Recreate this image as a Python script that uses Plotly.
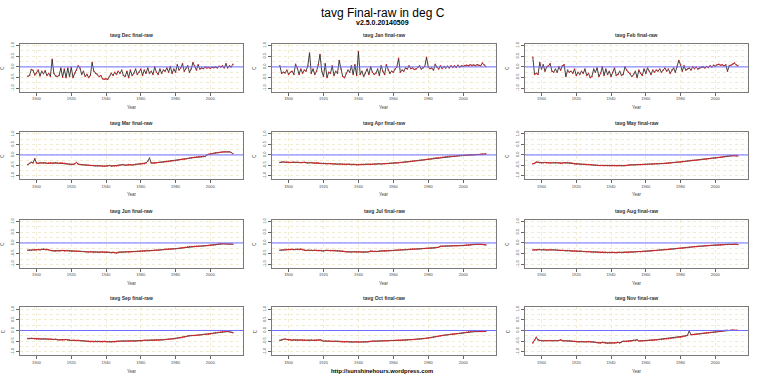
import plotly.graph_objects as go

years = list(range(1895, 2014))
months = ["Dec", "Jan", "Feb", "Mar", "Apr", "May", "Jun", "Jul", "Aug", "Sep", "Oct", "Nov"]

dec = [-0.44, -0.40, -0.12, -0.16, -0.38, -0.28, -0.15, -0.42, -0.20, -0.32,
       -0.18, -0.40, -0.30, -0.45, 0.35, -0.30, -0.42, -0.45, -0.40, -0.05,
       -0.48, -0.10, -0.50, -0.05, -0.45, -0.02, -0.50, -0.30, -0.15, 0.05,
       -0.05, -0.35, -0.20, -0.45, -0.35, -0.50, -0.40, 0.20, -0.20, -0.30,
       -0.35, -0.45, -0.40, -0.55, -0.58, -0.56, -0.58, -0.45, -0.30, -0.40,
       -0.25, -0.35, -0.20, -0.30, -0.15, -0.40, -0.45, -0.20, -0.50, -0.15,
       -0.40, -0.30, -0.10, -0.35, -0.25, -0.10, -0.40, -0.15, -0.30, -0.05,
       -0.30, -0.20, -0.35, 0.00, -0.25, -0.35, -0.10, -0.30, -0.15, -0.20,
       -0.05, -0.25, 0.02, -0.30, -0.10, -0.25, 0.10, -0.15, -0.05, 0.15,
       -0.20, -0.05, 0.05, -0.25, -0.10, 0.20, 0.05, -0.15, 0.10, -0.10,
       -0.05, -0.08, -0.02, -0.05, -0.03, -0.06, -0.02, -0.04, 0.00, -0.05,
       0.03, 0.00, 0.05, -0.05, 0.15, -0.05, 0.05, 0.00, 0.12]
jan = [0.05, -0.30, -0.25, -0.28, -0.15, -0.35, -0.25, -0.20, -0.35, 0.12,
       -0.05, -0.35, -0.10, -0.30, -0.15, -0.20, 0.05, 0.65, -0.30, -0.10,
       -0.35, -0.20, 0.10, 0.58, -0.20, -0.45, 0.15, -0.50, -0.25, -0.30,
       0.05, -0.40, -0.20, -0.30, 0.30, -0.10, -0.45, -0.50, -0.30, -0.15,
       -0.25, 0.05, -0.35, 0.10, -0.40, 0.72, -0.35, -0.20, -0.45, -0.30,
       -0.10, -0.35, 0.00, -0.25, -0.35, -0.30, -0.10, -0.40, 0.05, -0.20,
       -0.35, 0.10, -0.15, -0.30, -0.20, -0.25, -0.10, 0.00, 0.40, -0.25,
       -0.15, -0.20, -0.05, -0.10, 0.05, -0.08, -0.05, -0.12, -0.10, -0.02,
       0.05, -0.10, -0.05, 0.02, 0.45, 0.00, -0.08, -0.05, -0.15, 0.12,
       -0.02, -0.10, 0.05, -0.08, 0.02, -0.05, 0.03, -0.05, 0.05, -0.02,
       0.05, -0.02, 0.08, 0.00, 0.05, 0.03, 0.06, 0.08, 0.05, 0.10,
       0.07, 0.09, 0.06, 0.10, 0.08, 0.05, 0.18, 0.10, 0.02]
feb = [0.45, -0.35, -0.30, -0.35, 0.20, -0.10, 0.10, -0.20, 0.00, 0.05,
       0.15, -0.20, -0.25, -0.10, -0.25, 0.00, -0.15, 0.05, 0.10, -0.45,
       -0.15, -0.25, -0.20, -0.30, -0.10, -0.40, -0.25, -0.35, -0.20, -0.30,
       -0.10, -0.40, -0.30, -0.50, -0.45, -0.10, -0.25, -0.05, -0.45, -0.30,
       0.00, -0.40, -0.10, -0.35, -0.20, -0.45, -0.25, -0.05, -0.40, -0.35,
       -0.20, -0.40, -0.35, 0.00, -0.15, -0.25, -0.30, -0.45, -0.35, -0.20,
       -0.50, -0.15, -0.30, -0.40, -0.10, -0.30, -0.05, -0.20, -0.35, -0.15,
       -0.25, -0.15, -0.20, -0.10, -0.25, -0.15, -0.05, -0.20, -0.10, -0.30,
       -0.15, -0.05, -0.25, 0.00, 0.30, 0.10, -0.20, 0.05, -0.15, -0.10,
       -0.05, -0.15, 0.00, -0.08, -0.02, -0.10, -0.05, -0.02, 0.00, -0.05,
       0.02, -0.03, 0.05, 0.00, 0.08, 0.03, 0.10, 0.12, 0.08, 0.10,
       0.05, 0.10, -0.20, 0.05, 0.08, 0.12, 0.18, 0.10, 0.05]
mar = [-0.46, -0.40, -0.35, -0.38, -0.18, -0.38, -0.40, -0.38, -0.37, -0.39,
       -0.38, -0.40, -0.39, -0.38, -0.40, -0.39, -0.38, -0.39, -0.40, -0.38,
       -0.39, -0.40, -0.42, -0.43, -0.44, -0.46, -0.45, -0.42, -0.36, -0.44,
       -0.46, -0.47, -0.47, -0.48, -0.48, -0.49, -0.50, -0.50, -0.51, -0.52,
       -0.51, -0.52, -0.52, -0.53, -0.54, -0.53, -0.52, -0.50, -0.53, -0.52,
       -0.53, -0.52, -0.51, -0.49, -0.47, -0.46, -0.49, -0.48, -0.46, -0.47,
       -0.48, -0.47, -0.45, -0.44, -0.43, -0.43, -0.42, -0.42, -0.38, -0.30,
       -0.15, -0.38, -0.39, -0.38, -0.37, -0.36, -0.35, -0.35, -0.34, -0.33,
       -0.32, -0.31, -0.30, -0.29, -0.28, -0.27, -0.25, -0.24, -0.22, -0.21,
       -0.20, -0.18, -0.17, -0.15, -0.14, -0.12, -0.11, -0.10, -0.09, -0.08,
       -0.08, -0.07, -0.07, 0.00, 0.03, 0.05, 0.06, 0.08, 0.10, 0.11,
       0.12, 0.13, 0.14, 0.15, 0.15, 0.14, 0.15, 0.12, 0.06]
apr = [-0.36, -0.34, -0.33, -0.35, -0.34, -0.35, -0.36, -0.35, -0.34, -0.36,
       -0.35, -0.36, -0.37, -0.36, -0.35, -0.37, -0.38, -0.37, -0.36, -0.38,
       -0.39, -0.38, -0.39, -0.40, -0.41, -0.40, -0.41, -0.42, -0.41, -0.42,
       -0.42, -0.43, -0.42, -0.44, -0.43, -0.44, -0.45, -0.44, -0.45, -0.44,
       -0.45, -0.46, -0.45, -0.46, -0.46, -0.47, -0.46, -0.45, -0.46, -0.45,
       -0.45, -0.44, -0.45, -0.44, -0.43, -0.44, -0.43, -0.42, -0.43, -0.42,
       -0.42, -0.41, -0.41, -0.40, -0.40, -0.39, -0.38, -0.38, -0.37, -0.36,
       -0.36, -0.35, -0.34, -0.33, -0.32, -0.31, -0.30, -0.29, -0.28, -0.27,
       -0.26, -0.25, -0.24, -0.23, -0.22, -0.20, -0.19, -0.18, -0.16, -0.15,
       -0.14, -0.13, -0.12, -0.11, -0.10, -0.09, -0.08, -0.07, -0.06, -0.06,
       -0.05, -0.05, -0.04, -0.03, -0.03, -0.02, -0.02, -0.01, -0.01, 0.00,
       0.00, 0.01, 0.01, 0.02, 0.02, 0.03, 0.04, 0.03, 0.05]
may = [-0.42, -0.40, -0.34, -0.35, -0.37, -0.38, -0.37, -0.36, -0.38, -0.37,
       -0.38, -0.37, -0.36, -0.38, -0.37, -0.38, -0.40, -0.39, -0.37, -0.38,
       -0.36, -0.37, -0.38, -0.40, -0.43, -0.44, -0.42, -0.43, -0.44, -0.45,
       -0.45, -0.46, -0.46, -0.47, -0.47, -0.48, -0.49, -0.49, -0.50, -0.50,
       -0.50, -0.51, -0.50, -0.51, -0.51, -0.52, -0.51, -0.51, -0.52, -0.52,
       -0.51, -0.52, -0.52, -0.51, -0.50, -0.48, -0.48, -0.47, -0.48, -0.47,
       -0.47, -0.46, -0.46, -0.46, -0.45, -0.45, -0.44, -0.44, -0.43, -0.43,
       -0.42, -0.42, -0.42, -0.41, -0.41, -0.41, -0.40, -0.40, -0.39, -0.38,
       -0.37, -0.36, -0.36, -0.35, -0.34, -0.33, -0.32, -0.31, -0.30, -0.29,
       -0.28, -0.27, -0.26, -0.25, -0.25, -0.24, -0.23, -0.22, -0.21, -0.20,
       -0.19, -0.18, -0.17, -0.16, -0.15, -0.14, -0.13, -0.12, -0.11, -0.10,
       -0.08, -0.06, -0.05, -0.04, -0.03, -0.04, -0.03, -0.05, -0.04]
jun = [-0.34, -0.33, -0.34, -0.32, -0.33, -0.32, -0.31, -0.32, -0.30, -0.29,
       -0.31, -0.30, -0.32, -0.35, -0.36, -0.38, -0.37, -0.36, -0.37, -0.36,
       -0.35, -0.37, -0.36, -0.36, -0.37, -0.38, -0.38, -0.39, -0.38, -0.39,
       -0.39, -0.40, -0.40, -0.41, -0.42, -0.42, -0.41, -0.42, -0.43, -0.42,
       -0.42, -0.43, -0.42, -0.43, -0.43, -0.42, -0.43, -0.44, -0.45, -0.44,
       -0.45, -0.47, -0.44, -0.42, -0.43, -0.42, -0.42, -0.41, -0.42, -0.41,
       -0.41, -0.40, -0.40, -0.39, -0.39, -0.38, -0.38, -0.37, -0.36, -0.36,
       -0.36, -0.35, -0.35, -0.34, -0.34, -0.34, -0.33, -0.32, -0.31, -0.30,
       -0.30, -0.29, -0.28, -0.28, -0.27, -0.27, -0.26, -0.25, -0.24, -0.22,
       -0.21, -0.20, -0.18, -0.17, -0.17, -0.17, -0.16, -0.16, -0.15, -0.15,
       -0.14, -0.14, -0.13, -0.13, -0.12, -0.11, -0.10, -0.09, -0.08, -0.06,
       -0.04, -0.03, -0.03, -0.04, -0.05, -0.04, -0.06, -0.05, -0.06]
jul = [-0.34, -0.33, -0.32, -0.31, -0.31, -0.30, -0.31, -0.30, -0.31, -0.30,
       -0.30, -0.31, -0.29, -0.31, -0.34, -0.35, -0.34, -0.35, -0.34, -0.35,
       -0.34, -0.35, -0.36, -0.35, -0.36, -0.37, -0.35, -0.34, -0.35, -0.36,
       -0.35, -0.36, -0.36, -0.37, -0.37, -0.38, -0.38, -0.40, -0.41, -0.42,
       -0.41, -0.42, -0.41, -0.42, -0.42, -0.41, -0.42, -0.42, -0.43, -0.42,
       -0.42, -0.41, -0.38, -0.39, -0.40, -0.39, -0.40, -0.38, -0.38, -0.37,
       -0.37, -0.37, -0.36, -0.36, -0.35, -0.35, -0.34, -0.34, -0.33, -0.33,
       -0.32, -0.32, -0.31, -0.31, -0.30, -0.30, -0.29, -0.29, -0.28, -0.28,
       -0.27, -0.27, -0.26, -0.26, -0.25, -0.25, -0.24, -0.24, -0.23, -0.22,
       -0.21, -0.20, -0.15, -0.15, -0.15, -0.15, -0.14, -0.14, -0.14, -0.13,
       -0.13, -0.13, -0.13, -0.12, -0.12, -0.12, -0.11, -0.10, -0.10, -0.09,
       -0.07, -0.06, -0.06, -0.06, -0.06, -0.06, -0.07, -0.08, -0.09]
aug = [-0.33, -0.32, -0.33, -0.32, -0.31, -0.32, -0.31, -0.32, -0.33, -0.32,
       -0.32, -0.33, -0.32, -0.33, -0.34, -0.34, -0.35, -0.34, -0.35, -0.36,
       -0.36, -0.35, -0.37, -0.38, -0.37, -0.38, -0.39, -0.38, -0.39, -0.40,
       -0.40, -0.41, -0.40, -0.41, -0.42, -0.42, -0.43, -0.42, -0.43, -0.44,
       -0.43, -0.44, -0.44, -0.45, -0.44, -0.45, -0.44, -0.45, -0.45, -0.44,
       -0.44, -0.45, -0.44, -0.43, -0.44, -0.43, -0.42, -0.43, -0.42, -0.41,
       -0.41, -0.40, -0.41, -0.40, -0.39, -0.39, -0.38, -0.37, -0.37, -0.36,
       -0.35, -0.35, -0.34, -0.33, -0.33, -0.32, -0.31, -0.31, -0.30, -0.29,
       -0.28, -0.28, -0.27, -0.26, -0.25, -0.25, -0.24, -0.23, -0.22, -0.21,
       -0.20, -0.19, -0.18, -0.18, -0.17, -0.16, -0.15, -0.15, -0.14, -0.13,
       -0.13, -0.12, -0.12, -0.11, -0.11, -0.10, -0.10, -0.09, -0.09, -0.08,
       -0.08, -0.07, -0.07, -0.06, -0.07, -0.06, -0.05, -0.06, -0.07]
sep = [-0.38, -0.37, -0.36, -0.37, -0.38, -0.39, -0.38, -0.39, -0.40, -0.39,
       -0.40, -0.40, -0.41, -0.40, -0.41, -0.42, -0.41, -0.43, -0.44, -0.43,
       -0.44, -0.43, -0.42, -0.44, -0.45, -0.47, -0.46, -0.46, -0.47, -0.46,
       -0.47, -0.48, -0.48, -0.49, -0.50, -0.51, -0.52, -0.51, -0.52, -0.51,
       -0.52, -0.51, -0.52, -0.52, -0.51, -0.52, -0.53, -0.52, -0.53, -0.52,
       -0.53, -0.51, -0.50, -0.50, -0.49, -0.49, -0.50, -0.49, -0.50, -0.49,
       -0.49, -0.50, -0.49, -0.49, -0.48, -0.49, -0.47, -0.46, -0.46, -0.46,
       -0.46, -0.45, -0.45, -0.45, -0.45, -0.45, -0.44, -0.44, -0.43, -0.42,
       -0.42, -0.41, -0.40, -0.39, -0.38, -0.37, -0.36, -0.35, -0.34, -0.32,
       -0.30, -0.28, -0.26, -0.24, -0.23, -0.23, -0.23, -0.22, -0.22, -0.21,
       -0.20, -0.19, -0.18, -0.18, -0.17, -0.16, -0.14, -0.12, -0.10, -0.09,
       -0.08, -0.07, -0.06, -0.05, -0.05, -0.05, -0.06, -0.08, -0.10]
oct_ = [-0.46, -0.44, -0.41, -0.40, -0.42, -0.44, -0.43, -0.45, -0.44, -0.45,
        -0.44, -0.45, -0.44, -0.46, -0.45, -0.46, -0.45, -0.46, -0.45, -0.46,
        -0.45, -0.46, -0.45, -0.44, -0.46, -0.50, -0.49, -0.50, -0.49, -0.50,
        -0.50, -0.51, -0.50, -0.51, -0.51, -0.52, -0.52, -0.53, -0.52, -0.53,
        -0.53, -0.53, -0.54, -0.53, -0.54, -0.53, -0.54, -0.53, -0.54, -0.53,
        -0.53, -0.52, -0.50, -0.50, -0.49, -0.50, -0.49, -0.49, -0.48, -0.49,
        -0.48, -0.48, -0.48, -0.47, -0.47, -0.47, -0.46, -0.46, -0.45, -0.46,
        -0.45, -0.45, -0.44, -0.44, -0.43, -0.43, -0.42, -0.42, -0.41, -0.40,
        -0.40, -0.39, -0.38, -0.37, -0.36, -0.35, -0.34, -0.33, -0.31, -0.29,
        -0.28, -0.26, -0.25, -0.23, -0.22, -0.21, -0.20, -0.19, -0.18, -0.17,
        -0.16, -0.15, -0.14, -0.13, -0.12, -0.11, -0.09, -0.08, -0.06, -0.05,
        -0.05, -0.05, -0.05, -0.05, -0.05, -0.05, -0.05, -0.05, -0.04]
nov = [-0.58, -0.45, -0.32, -0.44, -0.47, -0.48, -0.48, -0.47, -0.48, -0.48,
       -0.47, -0.48, -0.48, -0.47, -0.48, -0.47, -0.44, -0.48, -0.49, -0.48,
       -0.49, -0.48, -0.49, -0.50, -0.50, -0.52, -0.53, -0.53, -0.52, -0.53,
       -0.53, -0.53, -0.52, -0.53, -0.54, -0.53, -0.55, -0.57, -0.58, -0.58,
       -0.55, -0.57, -0.58, -0.59, -0.58, -0.59, -0.57, -0.58, -0.57, -0.55,
       -0.58, -0.54, -0.50, -0.51, -0.50, -0.51, -0.50, -0.49, -0.46, -0.47,
       -0.44, -0.49, -0.48, -0.49, -0.48, -0.48, -0.47, -0.46, -0.45, -0.45,
       -0.44, -0.44, -0.43, -0.42, -0.42, -0.41, -0.40, -0.39, -0.38, -0.37,
       -0.36, -0.35, -0.34, -0.33, -0.32, -0.31, -0.29, -0.27, -0.25, -0.22,
       -0.02, -0.20, -0.19, -0.18, -0.17, -0.16, -0.15, -0.14, -0.13, -0.12,
       -0.11, -0.10, -0.09, -0.08, -0.07, -0.06, -0.05, -0.04, -0.03, -0.02,
       0.00, 0.01, 0.01, 0.00, 0.01, 0.02, 0.01, 0.02, 0.00]

series = [dec, jan, feb, mar, apr, may, jun, jul, aug, sep, oct_, nov]

x_tick_vals = [1900, 1920, 1940, 1960, 1980, 2000]
y_tick_vals = [-1.0, -0.5, 0.0, 0.5, 1.0]
y_tick_text = ["-1.0", "-0.5", "0.0", "0.5", "1.0"]

main_title = "tavg Final-raw in deg C"
sub_title = "v2.5.0.20140509"
footer = "http://sunshinehours.wordpress.com"

# ---- layout (pixels) ----
W, H = 760, 379
FONT = "Liberation Sans, Arial, sans-serif"
cols = [(20, 243), (272, 496), (525, 748)]
rows = [(42, 90), (131, 178), (219, 267), (307, 355)]
GRID = "#f1ebd2"

fig = go.Figure()
annotations = []
shapes = []
layout_axes = {}

for i, (m, vals) in enumerate(zip(months, series)):
    r, c = divmod(i, 3)
    n = i + 1
    xa = "x" if n == 1 else f"x{n}"
    ya = "y" if n == 1 else f"y{n}"
    x0, x1 = cols[c]
    y0, y1 = rows[r]
    fig.add_trace(go.Scatter(
        x=years, y=vals, mode="lines+markers",
        line=dict(color="#111111", width=0.8),
        marker=dict(color="#d42a2a", size=1.6, line=dict(width=0)),
        xaxis=xa, yaxis=ya, showlegend=False, hoverinfo="x+y"))
    shapes.append(dict(type="line", xref=f"{xa} domain", yref=ya,
                       x0=0, x1=1, y0=0, y1=0,
                       line=dict(color="#6f6fff", width=1)))
    common = dict(showline=True, mirror=True, linecolor="#7a7a7a", linewidth=1,
                  ticks="outside", ticklen=3, tickwidth=0.6, tickcolor="#666",
                  tickfont=dict(size=4, color="#444", family=FONT),
                  showgrid=True, gridcolor=GRID, griddash="dot", gridwidth=0.7,
                  zeroline=False, fixedrange=True)
    layout_axes["xaxis" if n == 1 else f"xaxis{n}"] = dict(
        common, domain=[x0 / W, x1 / W], range=[1890.5, 2018.8],
        tickvals=x_tick_vals, anchor=ya)
    layout_axes["yaxis" if n == 1 else f"yaxis{n}"] = dict(
        common, domain=[1 - y1 / H, 1 - y0 / H], range=[-1.15, 1.08],
        tickvals=y_tick_vals, ticktext=y_tick_text, tickangle=-90, anchor=xa,
        minor=dict(dtick=0.25, tick0=0, showgrid=True, gridcolor=GRID,
                   griddash="dot", gridwidth=0.7, ticks=""))
    cx = (x0 + x1) / 2 / W
    annotations.append(dict(text=f"<b>tavg {m} final-raw</b>", x=cx, y=1 - (y0 - 9) / H,
                            xref="paper", yref="paper", showarrow=False,
                            font=dict(size=5, color="#333", family=FONT),
                            xanchor="center", yanchor="middle"))
    # the footer sits where the bottom-middle "Year" label would be
    if not (r == 3 and c == 1):
        annotations.append(dict(text="Year", x=cx, y=1 - (y1 + 16) / H,
                                xref="paper", yref="paper", showarrow=False,
                                font=dict(size=4.5, color="#444", family=FONT),
                                xanchor="center", yanchor="middle"))
    annotations.append(dict(text="C", x=(x0 - 17) / W, y=1 - (y0 + y1) / 2 / H,
                            xref="paper", yref="paper", showarrow=False, textangle=-90,
                            font=dict(size=4.5, color="#444", family=FONT),
                            xanchor="center", yanchor="middle"))

annotations.append(dict(text=main_title, x=383 / W, y=1 - 11 / H, xref="paper", yref="paper",
                        showarrow=False, font=dict(size=12, color="#000", family=FONT),
                        xanchor="center", yanchor="middle"))
annotations.append(dict(text=f"<b>{sub_title}</b>", x=383 / W, y=1 - 20.5 / H, xref="paper",
                        yref="paper", showarrow=False,
                        font=dict(size=7, color="#000", family=FONT),
                        xanchor="center", yanchor="middle"))
annotations.append(dict(text=f"<b>{footer}</b>", x=382 / W, y=1 - 371 / H, xref="paper",
                        yref="paper", showarrow=False,
                        font=dict(size=5.8, color="#000", family=FONT),
                        xanchor="center", yanchor="middle"))

fig.update_layout(width=W, height=H, margin=dict(l=0, r=0, t=0, b=0),
                  paper_bgcolor="white", plot_bgcolor="white",
                  annotations=annotations, shapes=shapes, showlegend=False,
                  **layout_axes)

fig.write_html("out.html", config={"displayModeBar": False},
               post_script="document.body.style.margin='0';document.body.style.overflow='hidden';")
